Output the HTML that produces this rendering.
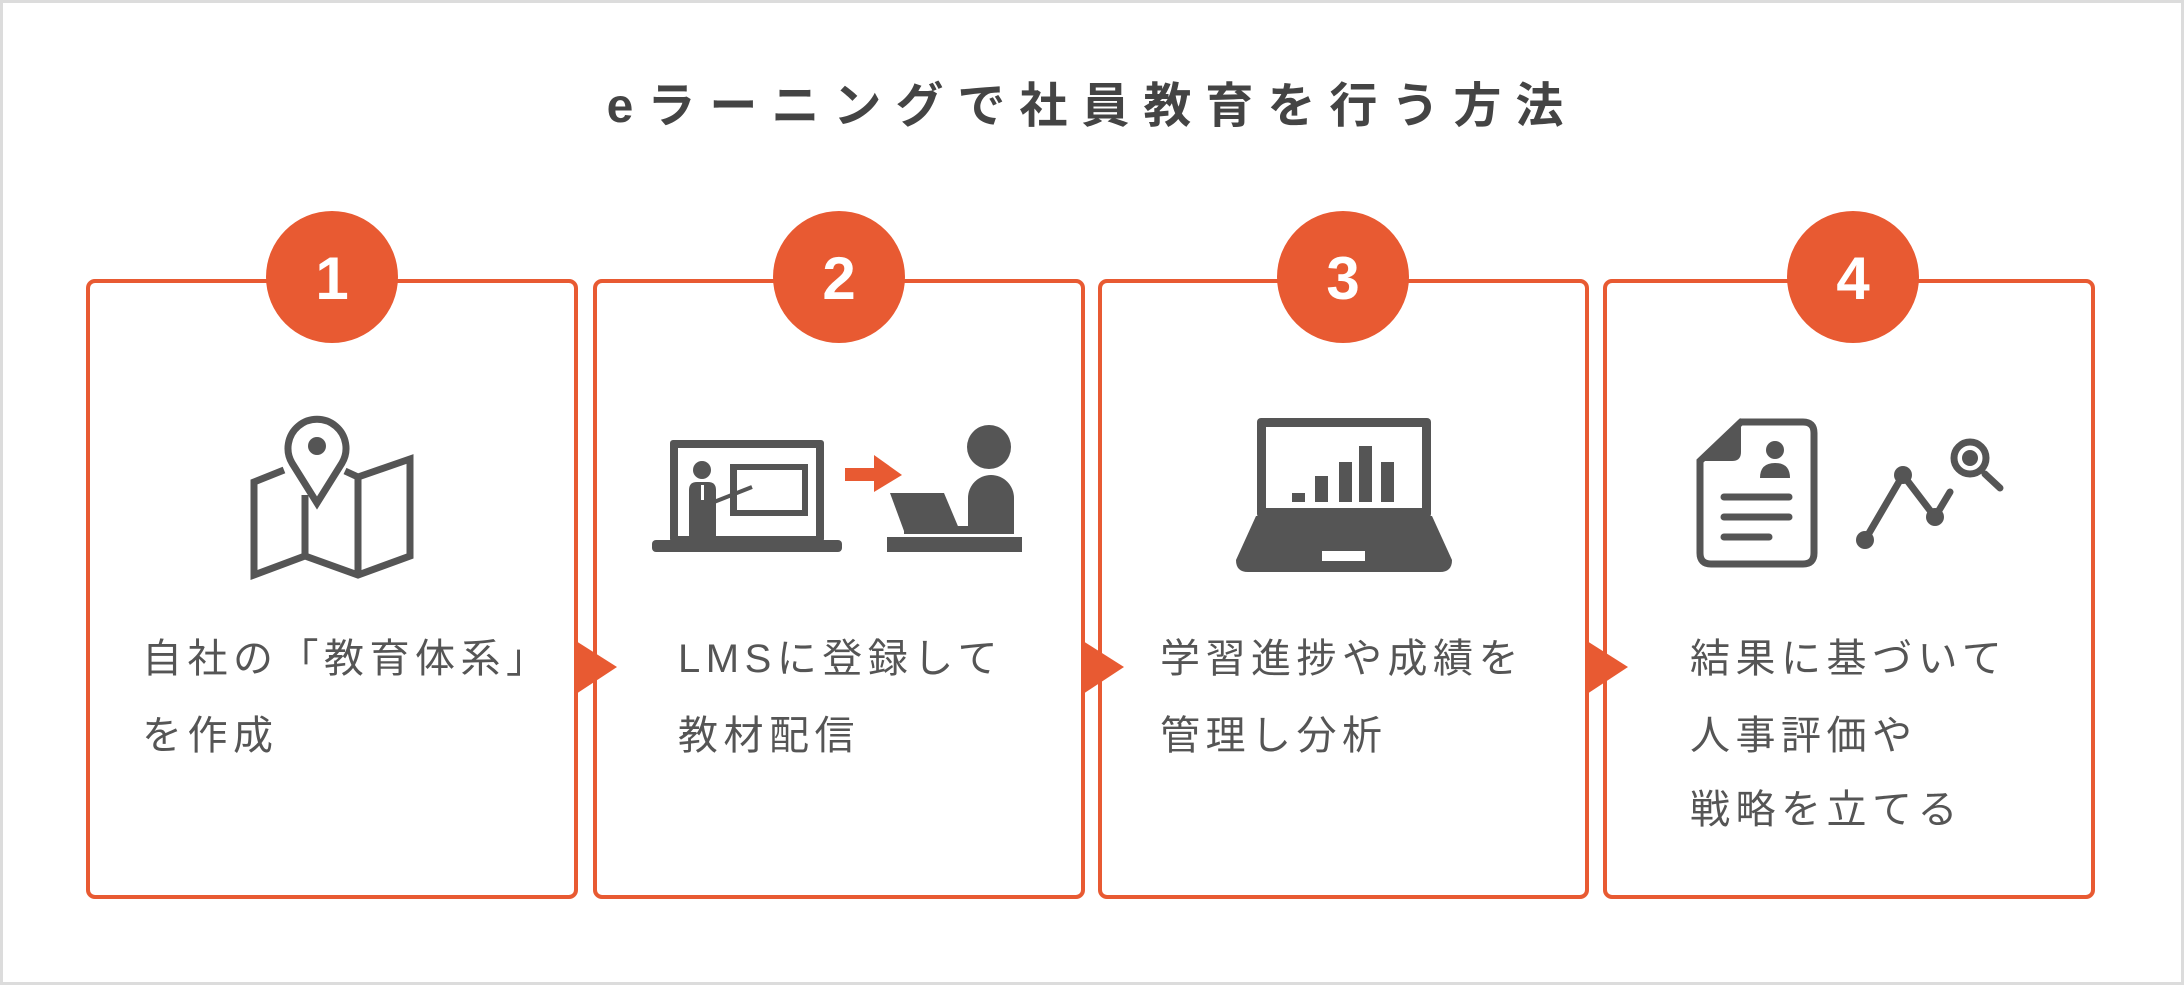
<!DOCTYPE html>
<html><head><meta charset="utf-8"><style>
html,body{margin:0;padding:0;background:#fff}
svg{display:block}
text{font-family:"Liberation Sans","Noto Sans CJK JP",sans-serif}
</style></head><body>
<svg width="2184" height="985" viewBox="0 0 2184 985" xmlns="http://www.w3.org/2000/svg">
<rect x="1.5" y="1.5" width="2181" height="982" fill="#fff" stroke="#dcdcdc" stroke-width="3"/>
<text x="1092" y="122" text-anchor="middle" font-size="48" fill="#444" letter-spacing="14" font-weight="bold">eラーニングで社員教育を行う方法</text>
<g fill="none" stroke="#e85a32" stroke-width="4">
<rect x="88" y="281" width="488" height="616" rx="7"/>
<rect x="595" y="281" width="488" height="616" rx="7"/>
<rect x="1100" y="281" width="487" height="616" rx="7"/>
<rect x="1605" y="281" width="488" height="616" rx="7"/>
</g>
<g fill="#e85a32">
<polygon points="576,641 617,667 576,694"/>
<polygon points="1083,641 1124,667 1083,694"/>
<polygon points="1587,641 1628,667 1587,694"/>
<circle cx="332" cy="277" r="66"/><circle cx="839" cy="277" r="66"/>
<circle cx="1343" cy="277" r="66"/><circle cx="1853" cy="277" r="66"/>
</g>
<g fill="#fff" font-size="60" text-anchor="middle" font-weight="bold">
<text x="332" y="299">1</text><text x="839" y="299">2</text>
<text x="1343" y="299">3</text><text x="1853" y="299">4</text>
</g>
<g fill="#555" font-size="40" letter-spacing="5.5">
<text x="142" y="672">自社の「教育体系」</text>
<text x="142" y="749">を作成</text>
<text x="678" y="672">LMSに登録して</text>
<text x="678" y="749">教材配信</text>
<text x="1160" y="672">学習進捗や成績を</text>
<text x="1160" y="749">管理し分析</text>
<text x="1690" y="672">結果に基づいて</text>
<text x="1690" y="749">人事評価や</text>
<text x="1690" y="823">戦略を立てる</text>
</g>
<g stroke="#555" stroke-width="7" fill="none" stroke-linejoin="miter">
<path d="M284,470 L254,482 L254,575 L305,556 L358,575 L410,556 L410,459 L358,477 L345,471"/>
<line x1="305" y1="495" x2="305" y2="556"/><line x1="358" y1="477" x2="358" y2="575"/>
<path d="M317,503 L292,463 A29 29 0 1 1 342,463 Z" fill="#fff"/>
</g>
<circle cx="317" cy="446" r="9" fill="#555"/>
<g fill="#555">
<rect x="670" y="440" width="154" height="102" rx="3"/>
<rect x="652" y="540" width="190" height="12" rx="4"/>
<rect x="678" y="448" width="138" height="88" fill="#fff"/>
<rect x="730" y="464" width="78" height="52"/>
<rect x="737" y="470" width="65" height="40" fill="#fff"/>
<circle cx="702" cy="470" r="9"/>
<path d="M689,490 Q689,482 697,482 L708,482 Q716,482 716,490 L716,540 L689,540 Z"/>
<line x1="714" y1="502" x2="752" y2="487" stroke="#555" stroke-width="4"/>
<rect x="701" y="485" width="3" height="15" fill="#fff"/>
<circle cx="989" cy="447" r="22"/>
<path d="M968,498 A23 23 0 0 1 1014,498 L1014,534 L968,534 Z"/>
<polygon points="890,493 944,493 960,531 904,531"/>
<rect x="904" y="526" width="66" height="8"/>
<rect x="887" y="537" width="135" height="15"/>
</g>
<g fill="#e85a32"><rect x="845" y="468" width="32" height="13"/><polygon points="874,455 902,475 874,492"/></g>
<g fill="#555">
<rect x="1257" y="418" width="174" height="100" rx="4"/>
<rect x="1266" y="427" width="156" height="81" fill="#fff"/>
<path d="M1256,516 L1432,516 L1452,560 Q1452,572 1440,572 L1248,572 Q1236,572 1236,560 Z"/>
<rect x="1322" y="551" width="43" height="10" fill="#fff"/>
<rect x="1292" y="493" width="13" height="9"/><rect x="1315" y="476" width="13" height="26"/>
<rect x="1339" y="462" width="13" height="40"/><rect x="1359" y="446" width="13" height="56"/>
<rect x="1381" y="462" width="13" height="40"/>
</g>
<g stroke="#555" stroke-width="7" fill="none" stroke-linecap="round">
<path d="M1741,422 L1803,422 Q1814,422 1814,433 L1814,553 Q1814,564 1803,564 L1711,564 Q1700,564 1700,553 L1700,461 Z"/>
<line x1="1724" y1="497" x2="1789" y2="497"/><line x1="1724" y1="517" x2="1789" y2="517"/><line x1="1724" y1="537" x2="1769" y2="537"/>
<polyline points="1865,540 1903,475 1935,517 1950,492"/>
<circle cx="1970" cy="458" r="16"/>
<line x1="1985" y1="474" x2="2000" y2="488"/>
</g>
<g fill="#555">
<path d="M1697,461 L1741,418 L1741,452 Q1741,461 1732,461 Z"/>
<circle cx="1775" cy="450" r="9"/>
<path d="M1760,478 Q1760,463 1775,463 Q1790,463 1790,478 Z"/>
<circle cx="1865" cy="540" r="9"/><circle cx="1903" cy="475" r="9"/><circle cx="1935" cy="517" r="9"/>
<circle cx="1970" cy="458" r="8"/>
</g>
</svg>
</body></html>
